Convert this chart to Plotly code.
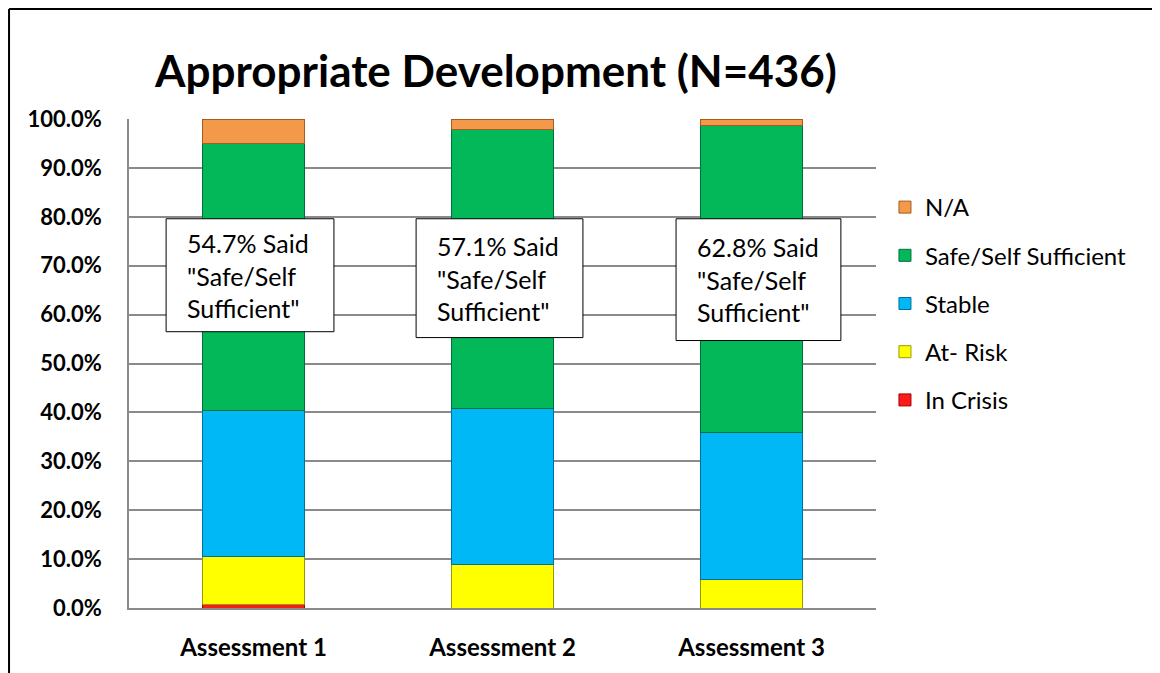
import plotly.graph_objects as go

# assessment categories and the share of clients in each level (percent)
assessments = ["Assessment 1", "Assessment 2", "Assessment 3"]
in_crisis = [0.7, 0.0, 0.0]
at_risk = [9.8, 8.8, 5.8]
stable = [29.8, 31.9, 30.0]
safe_self = [54.7, 57.1, 62.8]
not_avail = [5.0, 2.2, 1.4]

series = [
    ("In Crisis", in_crisis, "#FF1A1A", "#A00000"),
    ("At- Risk", at_risk, "#FFFF00", "#9A9A00"),
    ("Stable", stable, "#00B8F5", "#0070A0"),
    ("Safe/Self Sufficient", safe_self, "#03B858", "#00703A"),
    ("N/A", not_avail, "#F39A4A", "#A85A20"),
]

box_labels = ['{}% Said<br>"Safe/Self<br>Sufficient"'.format(v) for v in safe_self]

# callout box placement (category units / axis units)
box_x0 = [-0.351, 0.653, 1.697]
box_x1 = [0.323, 1.323, 2.359]
box_top = [79.6, 79.6, 79.6]
box_bottom = [56.5, 55.3, 54.7]

fig = go.Figure()
n = len(series)
for k, (name, vals, col, edge) in enumerate(series):
    fig.add_trace(go.Bar(x=assessments, y=vals, name=name, legendgroup=name,
                         legendrank=n - k,
                         marker={'color': col, 'line': {'color': edge, 'width': 1}}))

# text boxes over the green segments
for i, txt in enumerate(box_labels):
    fig.add_shape(type="rect", xref="x", yref="y", x0=box_x0[i], x1=box_x1[i],
                  y0=box_bottom[i], y1=box_top[i], fillcolor="white",
                  line={'color': 'black', 'width': 1}, layer="above")
    fig.add_annotation(x=box_x0[i], xanchor="left", xshift=19,
                       y=(box_top[i] + box_bottom[i]) / 2, yanchor="middle",
                       text=txt, showarrow=False, align="left",
                       font={'size': 25, 'color': 'black', 'family': 'Lato'})

# frame lines of the chart area
fig.add_shape(type="line", xref="paper", yref="paper", x0=-0.1606, x1=-0.1606,
              y0=1.225, y1=-0.14, line={'color': 'black', 'width': 2})
fig.add_shape(type="line", xref="paper", yref="paper", x0=-0.1606, x1=1.39,
              y0=1.225, y1=1.225, line={'color': 'black', 'width': 2})

fig.update_layout(
    width=1152, height=665,
    barmode="stack", bargap=0.594,
    plot_bgcolor="white", paper_bgcolor="white",
    margin={'l': 121, 'r': 284, 't': 111, 'b': 65},
    font={'family': 'Lato', 'color': 'black'},
    title={'text': "<b>Appropriate Development (N=436)</b>", 'x': 0.4236, 'xanchor': 'center',
           'y': 0.9038, 'yanchor': 'middle', 'font': {'size': 44, 'family': 'Lato'}},
    legend={'x': 1.012, 'y': 0.865, 'xanchor': 'left', 'yanchor': 'top',
            'traceorder': 'grouped', 'tracegroupgap': 14,
            'font': {'size': 24}},
    showlegend=True)

fig.update_yaxes(range=[0, 100], dtick=10, ticksuffix="%", tickformat=".1f",
                 showgrid=True, gridcolor="#8a8a8a", gridwidth=1.5,
                 showline=True, linecolor="#8a8a8a", linewidth=1.5,
                 tickfont={'size': 22, 'family': 'Lato'}, ticks="", ticklabelstandoff=21)
fig.update_xaxes(showline=True, linecolor="#8a8a8a", linewidth=1.5, ticks="",
                 tickfont={'size': 24, 'family': 'Lato'}, ticklabelstandoff=17)
fig.update_yaxes(tickprefix="<b>", showtickprefix="all")
fig.update_xaxes(tickvals=assessments, ticktext=["<b>{}</b>".format(a) for a in assessments])

fig.write_html("out.html")
